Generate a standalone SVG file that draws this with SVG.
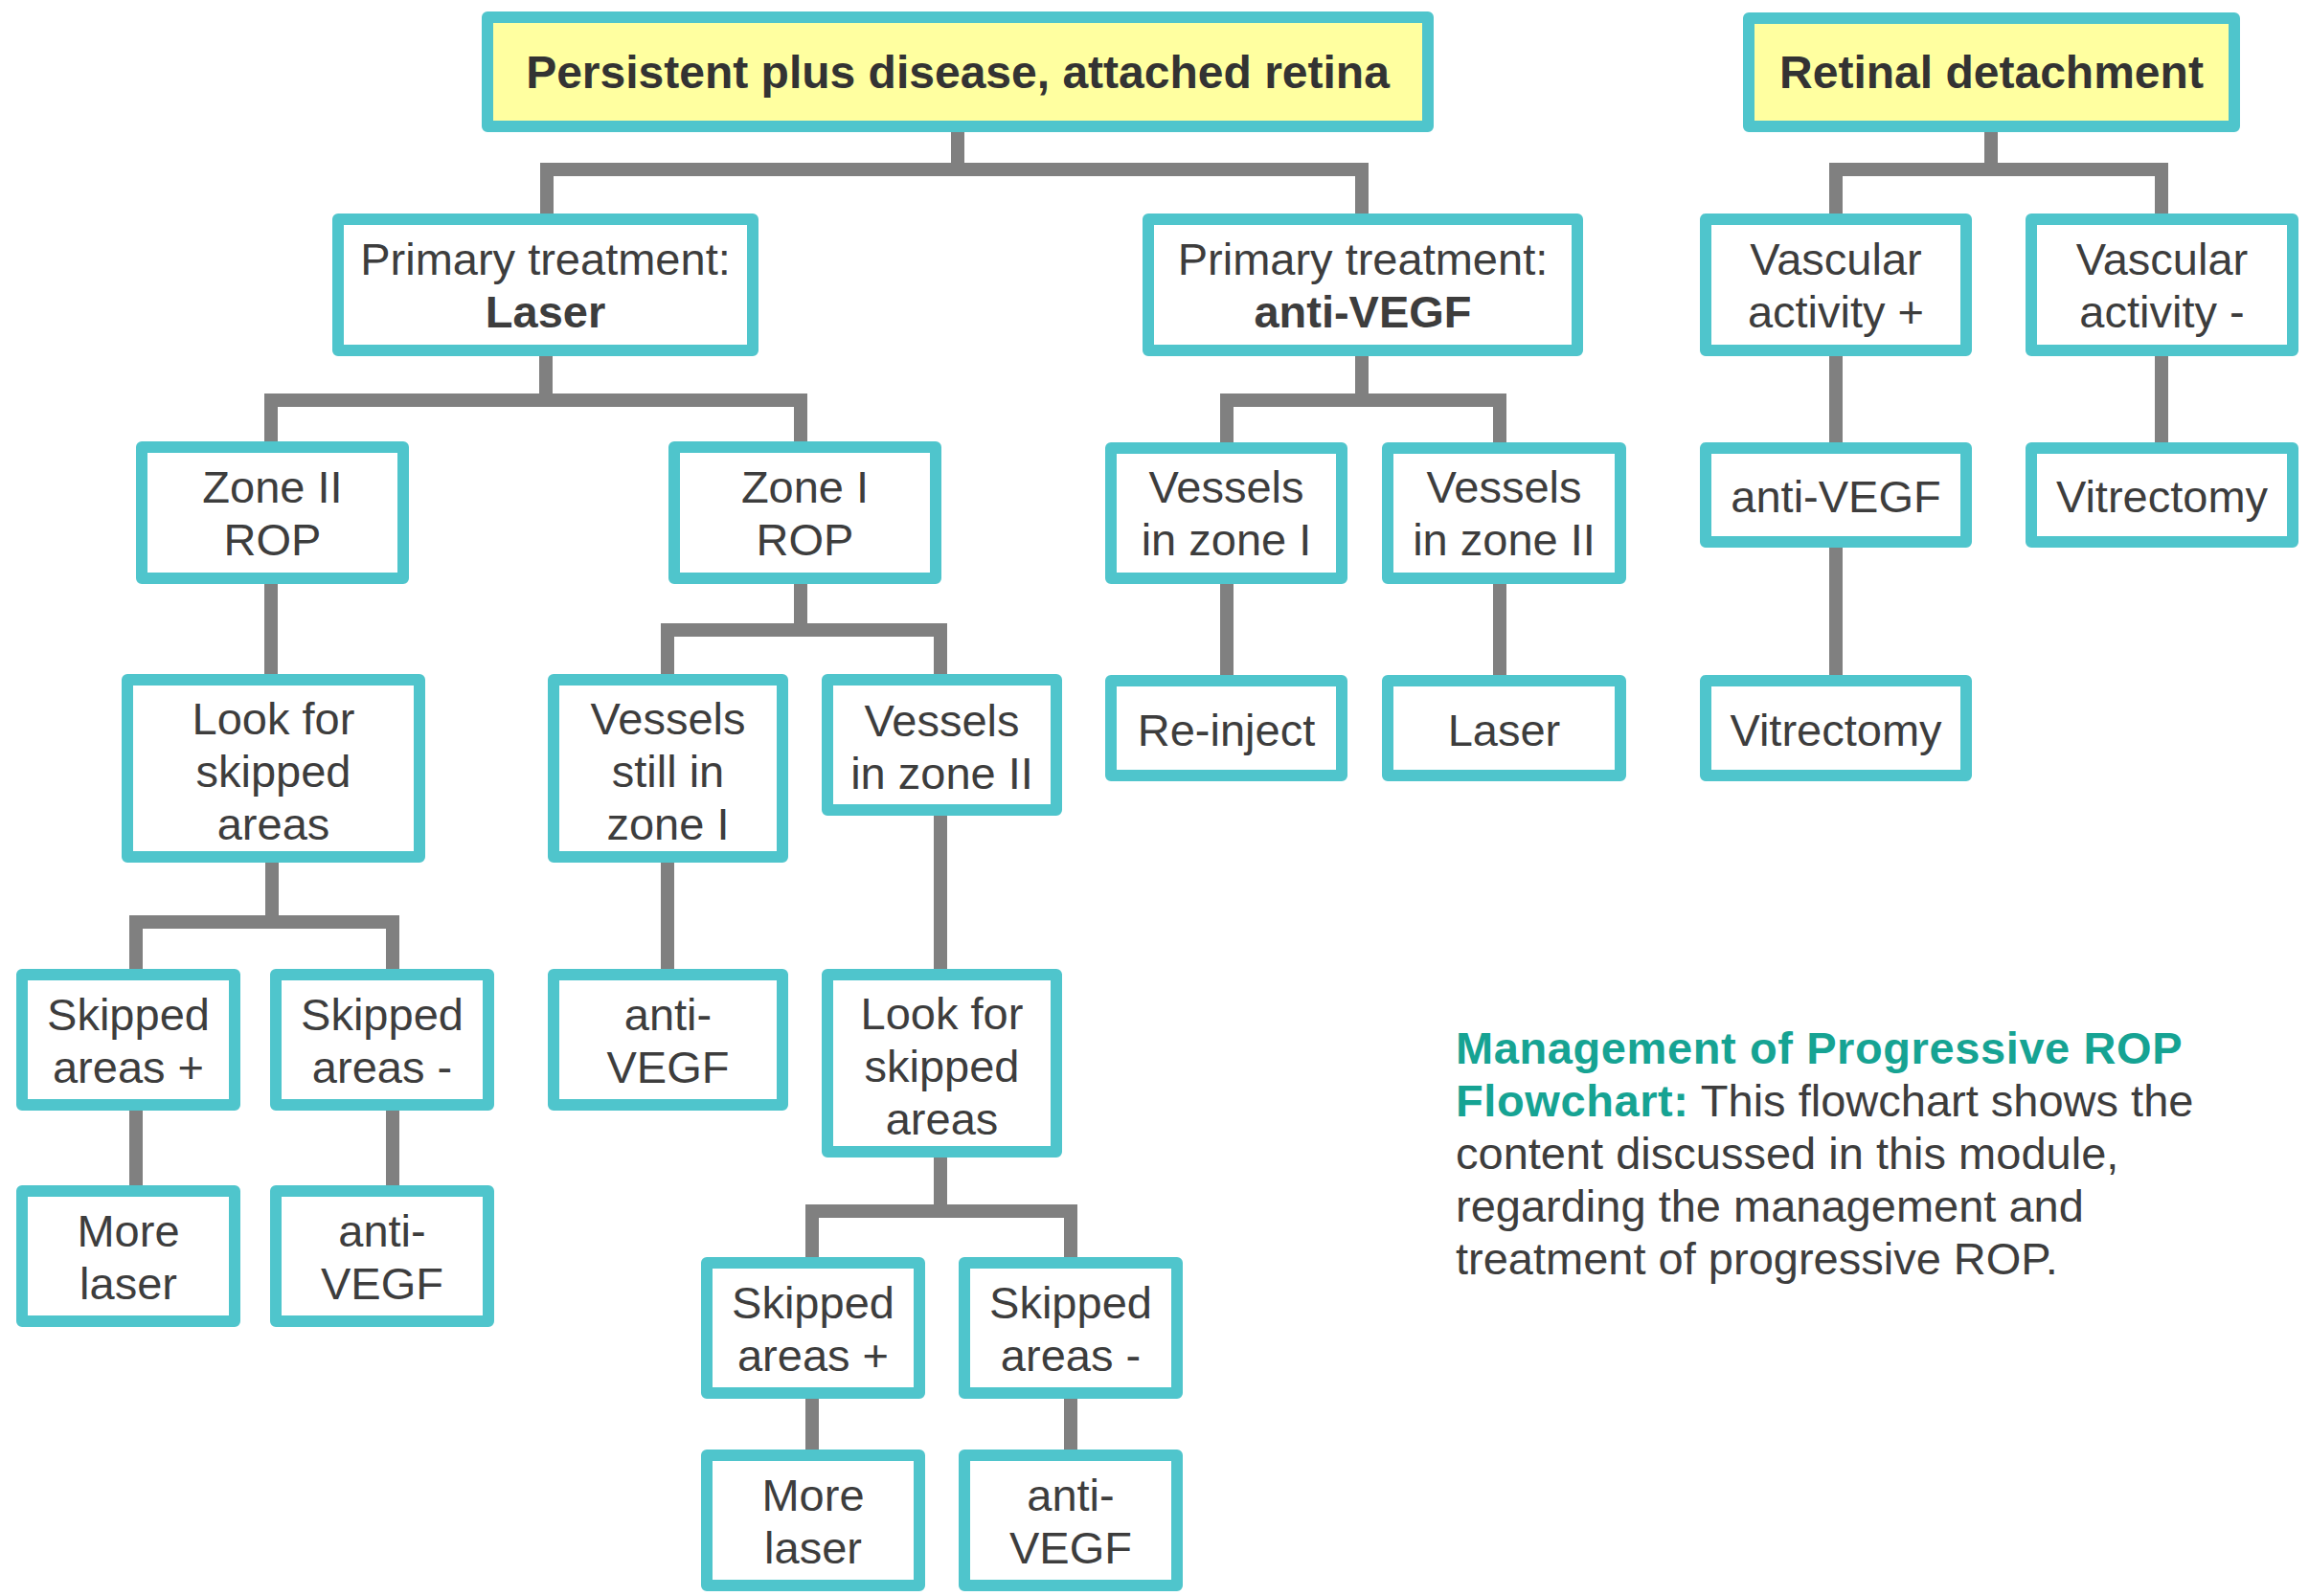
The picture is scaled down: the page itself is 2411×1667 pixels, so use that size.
<svg xmlns="http://www.w3.org/2000/svg" width="2411" height="1667" viewBox="0 0 2411 1667">
  <style>
    .box { fill: #ffffff; stroke: #4fc5cc; stroke-width: 12; stroke-linejoin: round; }
    .head { fill: #ffffa0; stroke: #4fc5cc; stroke-width: 12; stroke-linejoin: round; }
    .t { font-family: "Liberation Sans", Arial, sans-serif; font-size: 47px; fill: #3d3d3d; text-anchor: middle; }
    .tb { font-family: "Liberation Sans", Arial, sans-serif; font-size: 48px; font-weight: bold; fill: #333333; text-anchor: middle; }
    .wire { fill: none; stroke: #808080; stroke-width: 14; stroke-linejoin: miter; stroke-linecap: butt; }
    .cap { font-family: "Liberation Sans", Arial, sans-serif; font-size: 47px; fill: #3d3d3d; }
    .capb { font-weight: bold; fill: #16a393; letter-spacing: 0.6px; }
  </style>
  <rect width="2411" height="1667" fill="#ffffff"/>

  <!-- connectors -->
  <g id="connectors" class="wire">
    <path d="M1000 138 V177 M571 223 V177 H1422 V223"/>
    <path d="M2079 138 V177 M1917 223 V177 H2257 V223"/>
    <path d="M570 372 V418 M283 461 V418 H836 V461"/>
    <path d="M1422 372 V418 M1281 462 V418 H1566 V462"/>
    <path d="M1917 372 V462 M1917 572 V705"/>
    <path d="M2257 372 V462"/>
    <path d="M1281 610 V705 M1566 610 V705"/>
    <path d="M283 610 V704"/>
    <path d="M284 901 V963 M142 1012 V963 H410 V1012"/>
    <path d="M142 1160 V1238 M410 1160 V1238"/>
    <path d="M836 610 V658 M697 704 V658 H982 M982 651 V704"/>
    <path d="M697 901 V1012"/>
    <path d="M982 852 V1012"/>
    <path d="M982 1209 V1265 M848 1313 V1265 H1118 V1313"/>
    <path d="M848 1461 V1514 M1118 1461 V1514"/>
  </g>

  <!-- top level -->
  <g id="n-attached">
    <rect class="head" x="509" y="18" width="982" height="114"/>
    <text class="tb" x="1000" y="92">Persistent plus disease, attached retina</text>
  </g>
  <g id="n-detachment">
    <rect class="head" x="1826" y="19" width="507" height="113"/>
    <text class="tb" x="2079.5" y="92">Retinal detachment</text>
  </g>

  <!-- primary treatments / vascular activity -->
  <g id="n-primary-laser">
    <rect class="box" x="353" y="229" width="433" height="137"/>
    <text class="t" x="569.5" y="287">Primary treatment:</text>
    <text class="tb" x="569.5" y="342" style="font-size:47px;fill:#3d3d3d">Laser</text>
  </g>
  <g id="n-primary-antivegf">
    <rect class="box" x="1199" y="229" width="448" height="137"/>
    <text class="t" x="1423" y="287">Primary treatment:</text>
    <text class="tb" x="1423" y="342" style="font-size:47px;fill:#3d3d3d">anti-VEGF</text>
  </g>
  <g id="n-vasc-plus">
    <rect class="box" x="1781" y="229" width="272" height="137"/>
    <text class="t" x="1917" y="287">Vascular</text>
    <text class="t" x="1917" y="342">activity +</text>
  </g>
  <g id="n-vasc-minus">
    <rect class="box" x="2121" y="229" width="273" height="137"/>
    <text class="t" x="2257.5" y="287">Vascular</text>
    <text class="t" x="2257.5" y="342">activity -</text>
  </g>

  <!-- third row -->
  <g id="n-zone2-rop">
    <rect class="box" x="148" y="467" width="273" height="137"/>
    <text class="t" x="284.5" y="525">Zone II</text>
    <text class="t" x="284.5" y="580">ROP</text>
  </g>
  <g id="n-zone1-rop">
    <rect class="box" x="704" y="467" width="273" height="137"/>
    <text class="t" x="840.5" y="525">Zone I</text>
    <text class="t" x="840.5" y="580">ROP</text>
  </g>
  <g id="n-vessels-z1">
    <rect class="box" x="1160" y="468" width="241" height="136"/>
    <text class="t" x="1280.5" y="525">Vessels</text>
    <text class="t" x="1280.5" y="580">in zone I</text>
  </g>
  <g id="n-vessels-z2">
    <rect class="box" x="1449" y="468" width="243" height="136"/>
    <text class="t" x="1570.5" y="525">Vessels</text>
    <text class="t" x="1570.5" y="580">in zone II</text>
  </g>
  <g id="n-rd-antivegf">
    <rect class="box" x="1781" y="468" width="272" height="98"/>
    <text class="t" x="1917" y="535">anti-VEGF</text>
  </g>
  <g id="n-rd-vitrectomy-a">
    <rect class="box" x="2121" y="468" width="273" height="98"/>
    <text class="t" x="2257.5" y="535">Vitrectomy</text>
  </g>

  <!-- fourth row, right -->
  <g id="n-reinject">
    <rect class="box" x="1160" y="711" width="241" height="99"/>
    <text class="t" x="1280.5" y="779">Re-inject</text>
  </g>
  <g id="n-laser">
    <rect class="box" x="1449" y="711" width="243" height="99"/>
    <text class="t" x="1570.5" y="779">Laser</text>
  </g>
  <g id="n-rd-vitrectomy-b">
    <rect class="box" x="1781" y="711" width="272" height="99"/>
    <text class="t" x="1917" y="779">Vitrectomy</text>
  </g>

  <!-- fourth row, left -->
  <g id="n-look-left">
    <rect class="box" x="133" y="710" width="305" height="185"/>
    <text class="t" x="285.5" y="767">Look for</text>
    <text class="t" x="285.5" y="822">skipped</text>
    <text class="t" x="285.5" y="877">areas</text>
  </g>
  <g id="n-vessels-still-z1">
    <rect class="box" x="578" y="710" width="239" height="185"/>
    <text class="t" x="697.5" y="767">Vessels</text>
    <text class="t" x="697.5" y="822">still in</text>
    <text class="t" x="697.5" y="877">zone I</text>
  </g>
  <g id="n-vessels-now-z2">
    <rect class="box" x="864" y="710" width="239" height="136"/>
    <text class="t" x="983.5" y="769">Vessels</text>
    <text class="t" x="983.5" y="824">in zone II</text>
  </g>

  <!-- fifth row -->
  <g id="n-skipped-plus-left">
    <rect class="box" x="23" y="1018" width="222" height="136"/>
    <text class="t" x="134" y="1076">Skipped</text>
    <text class="t" x="134" y="1131">areas +</text>
  </g>
  <g id="n-skipped-minus-left">
    <rect class="box" x="288" y="1018" width="222" height="136"/>
    <text class="t" x="399" y="1076">Skipped</text>
    <text class="t" x="399" y="1131">areas -</text>
  </g>
  <g id="n-antivegf-mid">
    <rect class="box" x="578" y="1018" width="239" height="136"/>
    <text class="t" x="697.5" y="1076">anti-</text>
    <text class="t" x="697.5" y="1131">VEGF</text>
  </g>
  <g id="n-look-mid">
    <rect class="box" x="864" y="1018" width="239" height="185"/>
    <text class="t" x="983.5" y="1075">Look for</text>
    <text class="t" x="983.5" y="1130">skipped</text>
    <text class="t" x="983.5" y="1185">areas</text>
  </g>

  <!-- sixth row, left -->
  <g id="n-more-laser-left">
    <rect class="box" x="23" y="1244" width="222" height="136"/>
    <text class="t" x="134" y="1302">More</text>
    <text class="t" x="134" y="1357">laser</text>
  </g>
  <g id="n-antivegf-left">
    <rect class="box" x="288" y="1244" width="222" height="136"/>
    <text class="t" x="399" y="1302">anti-</text>
    <text class="t" x="399" y="1357">VEGF</text>
  </g>

  <!-- bottom branch -->
  <g id="n-skipped-plus-mid">
    <rect class="box" x="738" y="1319" width="222" height="136"/>
    <text class="t" x="849" y="1377">Skipped</text>
    <text class="t" x="849" y="1432">areas +</text>
  </g>
  <g id="n-skipped-minus-mid">
    <rect class="box" x="1007" y="1319" width="222" height="136"/>
    <text class="t" x="1118" y="1377">Skipped</text>
    <text class="t" x="1118" y="1432">areas -</text>
  </g>
  <g id="n-more-laser-mid">
    <rect class="box" x="738" y="1520" width="222" height="136"/>
    <text class="t" x="849" y="1578">More</text>
    <text class="t" x="849" y="1633">laser</text>
  </g>
  <g id="n-antivegf-bottom">
    <rect class="box" x="1007" y="1520" width="222" height="136"/>
    <text class="t" x="1118" y="1578">anti-</text>
    <text class="t" x="1118" y="1633">VEGF</text>
  </g>

  <!-- caption -->
  <g id="caption" class="cap">
    <text x="1520" y="1111"><tspan class="capb">Management of Progressive ROP</tspan></text>
    <text x="1520" y="1166"><tspan class="capb">Flowchart:</tspan> This flowchart shows the</text>
    <text x="1520" y="1221">content discussed in this module,</text>
    <text x="1520" y="1276">regarding the management and</text>
    <text x="1520" y="1331">treatment of progressive ROP.</text>
  </g>
</svg>
